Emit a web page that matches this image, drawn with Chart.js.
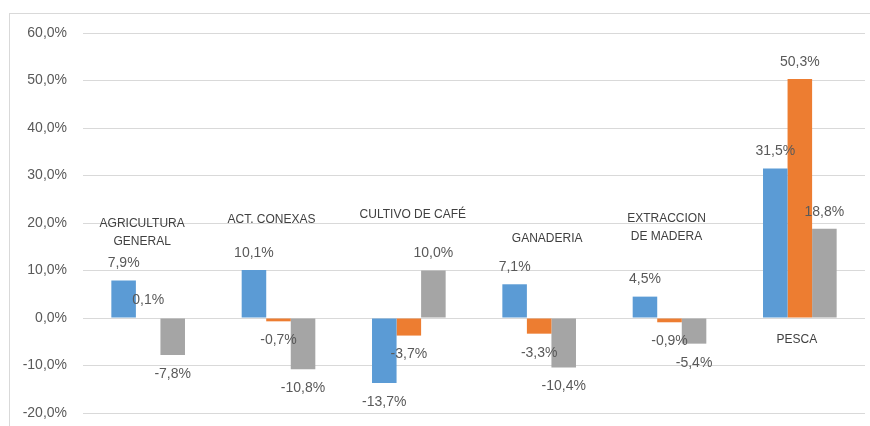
<!DOCTYPE html>
<html>
<head>
<meta charset="utf-8">
<script src="https://cdn.jsdelivr.net/npm/chart.js@4"></script>
<style>
  body { margin: 0; background: #fff; }
  #wrap { position: relative; width: 870px; height: 426px; }
  /* chart frame (left + top border) like the excel export */
  #frame { position: absolute; left: 9px; top: 13px; width: 861px; height: 413px;
           border-left: 1px solid #d9d9d9; border-top: 1px solid #d9d9d9; }
  canvas { position: absolute; left: 0; top: 0; }
</style>
</head>
<body>
<div id="wrap">
  <div id="frame"></div>
  <canvas id="chart" width="870" height="426"></canvas>
</div>
<script>
// categories
const categories = [['AGRICULTURA', 'GENERAL'], ['ACT. CONEXAS'], ['CULTIVO DE CAFÉ'], ['GANADERIA'], ['EXTRACCION', 'DE MADERA'], ['PESCA']];
// three series (blue, orange, gray), in %
const serieAzul = [7.9, 10.1, -13.7, 7.1, 4.5, 31.5];
const serieNaranja = [0.1, -0.7, -3.7, -3.3, -0.9, 50.3];
const serieGris = [-7.8, -10.8, 10.0, -10.4, -5.4, 18.8];
// y axis ticks
const yMin = -20, yMax = 60, yStep = 10;

// where the category names sit inside the plot (value on y axis, px shift on x)
const catLabelY = [18, 20.6, 21.8, 16.8, 19, -4.6];
const catLabelDx = [-6, -7, 4, 8, -3, -3];

const fmt = v => v.toFixed(1).replace('.', ',') + '%';

// value labels above / below each bar
const valueLabels = {
  id: 'valueLabels',
  afterDatasetsDraw(chart) {
    const ctx = chart.ctx;
    ctx.save();
    ctx.font = '14px "Liberation Sans", Arial, sans-serif';
    ctx.fillStyle = '#595959';
    ctx.textAlign = 'center';
    ctx.textBaseline = 'middle';
    chart.data.datasets.forEach((ds, i) => {
      chart.getDatasetMeta(i).data.forEach((bar, j) => {
        const v = ds.data[j];
        const y = v >= 0 ? bar.y - 17 : bar.y + 19;
        ctx.fillText(fmt(v), bar.x, y);
      });
    });
    ctx.restore();
  }
};

// category names drawn inside plot
const catLabels = {
  id: 'catLabels',
  afterDatasetsDraw(chart) {
    const ctx = chart.ctx;
    const xs = chart.scales.x, ys = chart.scales.y;
    ctx.save();
    ctx.font = '12px "Liberation Sans", Arial, sans-serif';
    ctx.fillStyle = '#404040';
    ctx.textAlign = 'center';
    ctx.textBaseline = 'middle';
    categories.forEach((lines, i) => {
      const cx = xs.getPixelForValue(i) + catLabelDx[i];
      const cy = ys.getPixelForValue(catLabelY[i]);
      const lh = 18.4;
      lines.forEach((t, k) => {
        ctx.fillText(t, cx, cy + (k - (lines.length - 1) / 2) * lh);
      });
    });
    ctx.restore();
  }
};

new Chart('chart', {
  type: 'bar',
  data: {
    labels: categories.map(c => c.join(' ')),
    datasets: [
      { data: serieAzul, backgroundColor: '#5B9BD5' },
      { data: serieNaranja, backgroundColor: '#ED7D31' },
      { data: serieGris, backgroundColor: '#A5A5A5' }
    ]
  },
  options: {
    responsive: false,
    animation: false,
    layout: { padding: { top: 33, bottom: 13, right: 5, left: 0 } },
    datasets: { bar: { categoryPercentage: 0.565, barPercentage: 1 } },
    plugins: { legend: { display: false }, tooltip: { enabled: false } },
    scales: {
      x: { display: false },
      y: {
        min: yMin, max: yMax,
        ticks: {
          stepSize: yStep, padding: 16, color: '#595959',
          font: { family: '"Liberation Sans", Arial, sans-serif', size: 14 },
          callback: v => fmt(v)
        },
        grid: { color: '#d9d9d9', drawTicks: false },
        border: { display: false },
        afterFit(s) { s.width = 83; s.paddingTop = 0; s.paddingBottom = 0; }
      }
    }
  },
  plugins: [valueLabels, catLabels]
});
</script>
</body>
</html>
